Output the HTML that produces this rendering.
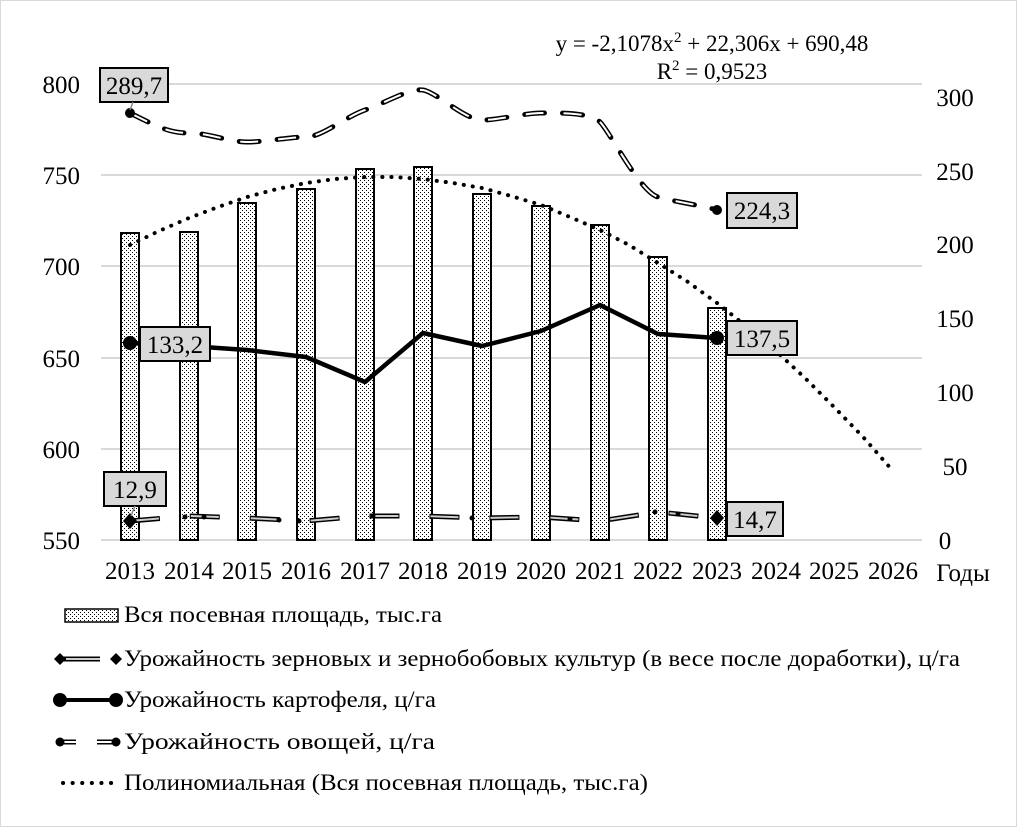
<!DOCTYPE html>
<html><head><meta charset="utf-8"><style>
body{margin:0;background:#fff;font-family:"Liberation Serif","Tinos","DejaVu Serif",serif}
svg{display:block}
svg text, svg tspan{font-family:"Liberation Serif","Tinos","DejaVu Serif",serif !important}
</style></head><body>
<svg width="1017" height="827" viewBox="0 0 1017 827" xmlns="http://www.w3.org/2000/svg" font-family="Liberation Serif, serif">
<defs>
<pattern id="dots" width="4" height="4" patternUnits="userSpaceOnUse">
<rect width="4" height="4" fill="#fff"/><rect x="0" y="0" width="1" height="1" fill="#000"/><rect x="2" y="2" width="1" height="1" fill="#000"/>
</pattern>
</defs>
<rect x="0.5" y="0.5" width="1016" height="826" fill="#fff" stroke="#d9d9d9"/>
<g stroke="#d9d9d9" stroke-width="2">
<line x1="101" y1="84" x2="922" y2="84"/>
<line x1="101" y1="175" x2="922" y2="175"/>
<line x1="101" y1="266" x2="922" y2="266"/>
<line x1="101" y1="358" x2="922" y2="358"/>
<line x1="101" y1="449" x2="922" y2="449"/>
<line x1="101" y1="540" x2="922" y2="540"/>
</g>
<g font-size="25" text-anchor="end">
<text x="80" y="93">800</text><text x="80" y="184">750</text><text x="80" y="275">700</text>
<text x="80" y="367">650</text><text x="80" y="458">600</text><text x="80" y="549">550</text>
</g>
<g font-size="25" text-anchor="middle">
<text x="955" y="106">300</text><text x="955" y="180">250</text><text x="955" y="253">200</text>
<text x="955" y="327">150</text><text x="955" y="401">100</text><text x="955" y="475">50</text><text x="945" y="549">0</text>
</g>
<g font-size="25" text-anchor="middle">
<text x="130" y="579">2013</text><text x="189" y="579">2014</text><text x="247" y="579">2015</text>
<text x="306" y="579">2016</text><text x="365" y="579">2017</text><text x="423" y="579">2018</text>
<text x="482" y="579">2019</text><text x="541" y="579">2020</text><text x="600" y="579">2021</text>
<text x="658" y="579">2022</text><text x="717" y="579">2023</text><text x="776" y="579">2024</text>
<text x="834" y="579">2025</text><text x="893" y="579">2026</text>
<text x="963" y="581">Годы</text>
</g>
<g fill="url(#dots)" stroke="#000" stroke-width="2">
<rect x="121" y="233" width="18" height="307"/>
<rect x="180" y="232" width="18" height="308"/>
<rect x="238" y="203" width="18" height="337"/>
<rect x="297" y="189" width="18" height="351"/>
<rect x="356" y="169" width="18" height="371"/>
<rect x="414" y="167" width="18" height="373"/>
<rect x="473" y="194" width="18" height="346"/>
<rect x="532" y="206" width="18" height="334"/>
<rect x="591" y="225" width="18" height="315"/>
<rect x="649" y="257" width="18" height="283"/>
<rect x="708" y="308" width="18" height="232"/>
</g>
<polyline fill="none" stroke="#000" stroke-width="4" stroke-dasharray="0.1 9" stroke-linecap="round"
points="130,245 159,231 189,218 218,207 247,197 277,189 306,183 335,179 365,177 394,177 423,179 453,183 482,188 511,196 541,205 570,217 600,230 629,245 658,263 688,282 717,303 746,326 776,351 805,378 834,407 864,438 893,471"/>
<polyline fill="none" stroke="#000" stroke-width="4.5" stroke-linejoin="round" points="130,343 189,346 247,350 306,357 365,382 423,333 482,346 541,331 600,305 658,334 717,338"/>
<circle cx="130" cy="343" r="7"/><circle cx="717" cy="338" r="7"/>
<path d="M130,113 C160,128 170,133 189,133 S230,142 247,142 S290,137 306,137 S345,117 365,110 S410,88 423,90 S465,120 482,120 S525,113 541,113 S590,112 600,122 S640,192 658,197 S700,205 717,210" fill="none" stroke="#000" stroke-width="5" stroke-dasharray="20 18" stroke-linecap="round"/>
<path d="M130,113 C160,128 170,133 189,133 S230,142 247,142 S290,137 306,137 S345,117 365,110 S410,88 423,90 S465,120 482,120 S525,113 541,113 S590,112 600,122 S640,192 658,197 S700,205 717,210" fill="none" stroke="#fff" stroke-width="2" stroke-dasharray="18 20" stroke-dashoffset="-1"/>
<circle cx="130" cy="113" r="5"/><circle cx="717" cy="210" r="5"/>
<path d="M130,521 L189,516 L247,518 L306,521 L365,516 L423,516 L482,518 L541,517 L600,521 L658,512 L717,518" fill="none" stroke="#000" stroke-width="5" stroke-dasharray="30 30"/>
<path d="M130,521 L189,516 L247,518 L306,521 L365,516 L423,516 L482,518 L541,517 L600,521 L658,512 L717,518" fill="none" stroke="#ccc" stroke-width="2" stroke-dasharray="28 32" stroke-dashoffset="-1"/>
<g fill="#000"><circle cx="185" cy="517" r="2.5"/><circle cx="204" cy="517" r="2.5"/><circle cx="279" cy="520" r="2.5"/><circle cx="299" cy="521" r="2.5"/><circle cx="373" cy="516" r="2.5"/><circle cx="472" cy="518" r="2.5"/><circle cx="570" cy="519" r="2.5"/><circle cx="655" cy="512" r="2.5"/><circle cx="678" cy="514" r="2.5"/></g>
<path d="M130,513 l7,8 -7,8 -7,-8z"/><path d="M717,510 l7,8 -7,8 -7,-8z"/>
<g fill="#d9d9d9" stroke="#000" stroke-width="2">
<rect x="100" y="68" width="68" height="34"/>
<rect x="727" y="193" width="70" height="35"/>
<rect x="140" y="327" width="70" height="34"/>
<rect x="727" y="321" width="70" height="34"/>
<rect x="104" y="472" width="62" height="34"/>
<rect x="727" y="502" width="56" height="34"/>
</g>
<line x1="133" y1="102" x2="130" y2="110" stroke="#888" stroke-width="1.5"/>
<line x1="135" y1="506" x2="131" y2="516" stroke="#888" stroke-width="1.5"/>
<g font-size="25" text-anchor="middle">
<text x="134" y="94">289,7</text><text x="762" y="219">224,3</text>
<text x="175" y="353">133,2</text><text x="762" y="347">137,5</text>
<text x="135" y="498">12,9</text><text x="755" y="528">14,7</text>
</g>
<g font-size="23" text-anchor="middle">
<text x="712" y="51">y = -2,1078x<tspan font-size="15" dy="-9">2</tspan><tspan dy="9"> + 22,306x + 690,48</tspan></text>
<text x="712" y="79">R<tspan font-size="15" dy="-9">2</tspan><tspan dy="9"> = 0,9523</tspan></text>
</g>
<rect x="65" y="609" width="53" height="13" fill="url(#dots)" stroke="#000" stroke-width="1.5"/>
<line x1="62" y1="659" x2="100" y2="659" stroke="#000" stroke-width="5"/>
<line x1="66" y1="659" x2="100" y2="659" stroke="#ccc" stroke-width="2"/>
<path d="M60,653 l6,6 -6,6 -6,-6z"/><path d="M116,653 l6,6 -6,6 -6,-6z"/>
<line x1="60" y1="700" x2="116" y2="700" stroke="#000" stroke-width="4"/>
<circle cx="60" cy="700" r="7"/><circle cx="116" cy="700" r="7"/>
<line x1="60" y1="742" x2="76" y2="742" stroke="#000" stroke-width="5"/><line x1="63" y1="742" x2="76" y2="742" stroke="#fff" stroke-width="2"/>
<line x1="97" y1="742" x2="116" y2="742" stroke="#000" stroke-width="5"/><line x1="97" y1="742" x2="112" y2="742" stroke="#fff" stroke-width="2"/>
<circle cx="60" cy="742" r="4.5"/><circle cx="116" cy="742" r="4.5"/>
<line x1="63" y1="783" x2="118" y2="783" stroke="#000" stroke-width="4" stroke-dasharray="0.1 9.5" stroke-linecap="round"/>
<g font-size="23">
<text x="124" y="622" textLength="318" lengthAdjust="spacingAndGlyphs">Вся посевная площадь, тыс.га</text>
<text x="124" y="666" textLength="836" lengthAdjust="spacingAndGlyphs">Урожайность зерновых и зернобобовых культур (в весе после доработки), ц/га</text>
<text x="124" y="707" textLength="312" lengthAdjust="spacingAndGlyphs">Урожайность картофеля, ц/га</text>
<text x="124" y="749" textLength="311" lengthAdjust="spacingAndGlyphs">Урожайность овощей, ц/га</text>
<text x="124" y="790" textLength="524" lengthAdjust="spacingAndGlyphs">Полиномиальная (Вся посевная площадь, тыс.га)</text>
</g>
</svg>
</body></html>
